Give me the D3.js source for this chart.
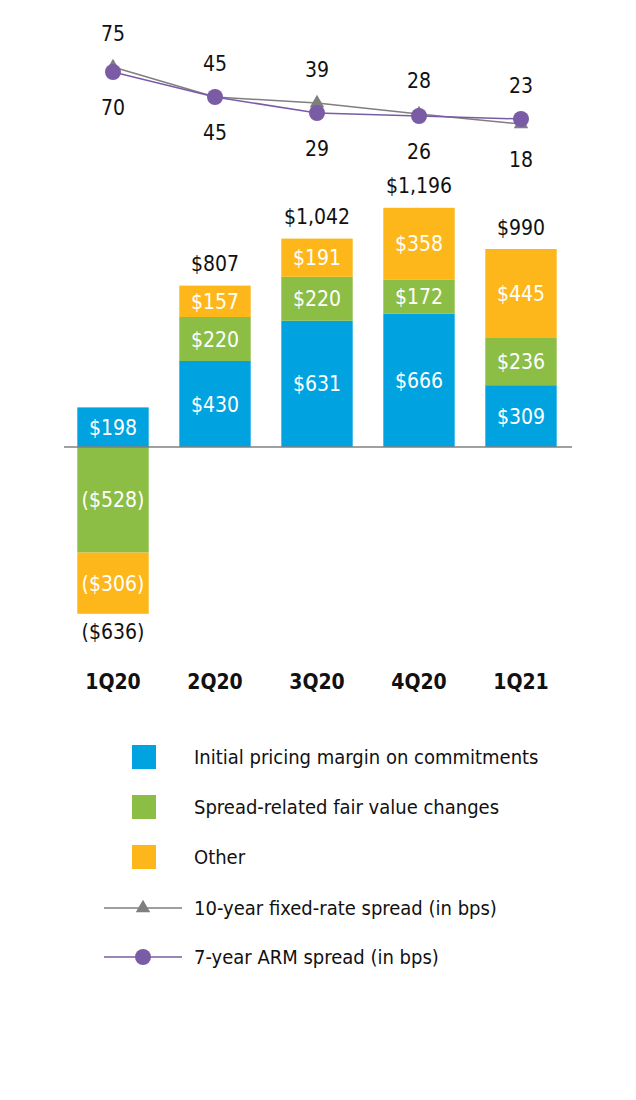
<!DOCTYPE html>
<html>
<head>
<meta charset="utf-8">
<script src="https://cdn.jsdelivr.net/npm/d3@7"></script>
<style>
  body { margin: 0; background: #fff; }
  svg text { font-family: 'DejaVu Sans Condensed', 'DejaVu Sans', sans-serif; font-stretch: condensed; }
</style>
</head>
<body>
<svg id="chart" width="636" height="1100"></svg>
<script>
'use strict';

var quarters = ['1Q20', '2Q20', '3Q20', '4Q20', '1Q21'];
var pricingMargin = [198, 430, 631, 666, 309];
var spreadChanges = [-528, 220, 220, 172, 236];
var other = [-306, 157, 191, 358, 445];
var totals = [-636, 807, 1042, 1196, 990];
var fixedSpread = [75, 45, 39, 28, 18];
var armSpread = [70, 45, 29, 26, 23];

var seriesNames = ['Initial pricing margin on commitments', 'Spread-related fair value changes', 'Other'];
var seriesColors = ['#00A3E0', '#8CBD45', '#FDB71A'];
var fixedName = '10-year fixed-rate spread (in bps)';
var armName = '7-year ARM spread (in bps)';
var grey = '#7F7F7F';
var purple = '#7A5BA5';

var svg = d3.select('#chart');

var x = d3.scaleBand().domain(quarters).range([62, 572]).paddingInner(0.3).paddingOuter(0.15);
var y = d3.scaleLinear().domain([0, 1000]).range([447, 247]);
var yLine = d3.scaleLinear().domain([0, 100]).range([142, 42]);

function money(v) {
  var s = '$' + d3.format(',')(Math.abs(v));
  return v < 0 ? '(' + s + ')' : s;
}

var rows = quarters.map(function(q, i) {
  return { q: q, a: pricingMargin[i], b: spreadChanges[i], c: other[i] };
});
var stack = d3.stack().keys(['a', 'b', 'c']).offset(d3.stackOffsetDiverging);
var layers = stack(rows);

var layer = svg.selectAll('g.layer')
  .data(layers)
  .enter()
  .append('g')
  .attr('class', 'layer')
  .attr('fill', function(d, i) { return seriesColors[i]; });

layer.selectAll('rect')
  .data(function(d) { return d; })
  .enter()
  .append('rect')
  .attr('x', function(d) { return x(d.data.q); })
  .attr('width', x.bandwidth())
  .attr('y', function(d) { return y(Math.max(d[0], d[1])); })
  .attr('height', function(d) { return Math.abs(y(d[0]) - y(d[1])); });

layer.selectAll('text')
  .data(function(d) {
    return d.map(function(p) { return { p: p, v: p.data[d.key] }; });
  })
  .enter()
  .append('text')
  .attr('x', function(d) { return x(d.p.data.q) + x.bandwidth() / 2; })
  .attr('y', function(d) { return (y(d.p[0]) + y(d.p[1])) / 2; })
  .attr('dy', '0.36em')
  .attr('text-anchor', 'middle')
  .attr('fill', 'white')
  .style('font-size', '21px')
  .text(function(d) { return money(d.v); });

// zero line
svg.append('line')
  .attr('x1', 64).attr('x2', 572)
  .attr('y1', y(0)).attr('y2', y(0))
  .attr('stroke', '#808080')
  .attr('stroke-width', 1.5);

// totals
svg.selectAll('text.total')
  .data(totals)
  .enter()
  .append('text')
  .attr('class', 'total')
  .attr('x', function(d, i) { return x(quarters[i]) + x.bandwidth() / 2; })
  .attr('y', function(d, i) {
    var top = pricingMargin[i] + Math.max(0, spreadChanges[i]) + Math.max(0, other[i]);
    var bottom = Math.min(0, spreadChanges[i]) + Math.min(0, other[i]);
    return d < 0 ? y(bottom) + 18 : y(top) - 22;
  })
  .attr('dy', '0.36em')
  .attr('text-anchor', 'middle')
  .attr('fill', '#111')
  .style('font-size', '21px')
  .text(money);

// category labels
svg.selectAll('text.cat')
  .data(quarters)
  .enter()
  .append('text')
  .attr('class', 'cat')
  .attr('x', function(d) { return x(d) + x.bandwidth() / 2; })
  .attr('y', 681)
  .attr('dy', '0.36em')
  .attr('text-anchor', 'middle')
  .attr('fill', '#111')
  .style('font-size', '21px')
  .style('font-weight', 'bold')
  .text(function(d) { return d; });

// spread lines
function cx(i) { return x(quarters[i]) + x.bandwidth() / 2; }
var line = d3.line()
  .x(function(d, i) { return cx(i); })
  .y(function(d) { return yLine(d); });

svg.append('path')
  .datum(fixedSpread)
  .attr('d', line)
  .attr('fill', 'none')
  .attr('stroke', grey)
  .attr('stroke-width', 1.5);

var tri = d3.symbol().type(d3.symbolTriangle).size(90);
svg.selectAll('path.tri')
  .data(fixedSpread)
  .enter()
  .append('path')
  .attr('class', 'tri')
  .attr('d', tri)
  .attr('transform', function(d, i) { return 'translate(' + cx(i) + ',' + yLine(d) + ')'; })
  .attr('fill', grey);

svg.append('path')
  .datum(armSpread)
  .attr('d', line)
  .attr('fill', 'none')
  .attr('stroke', purple)
  .attr('stroke-width', 1.5);

svg.selectAll('circle.arm')
  .data(armSpread)
  .enter()
  .append('circle')
  .attr('class', 'arm')
  .attr('cx', function(d, i) { return cx(i); })
  .attr('cy', function(d) { return yLine(d); })
  .attr('r', 8)
  .attr('fill', purple);

// spread value labels: higher value above, lower below
quarters.forEach(function(q, i) {
  var hi = Math.max(fixedSpread[i], armSpread[i]);
  var lo = Math.min(fixedSpread[i], armSpread[i]);
  svg.append('text')
    .attr('x', cx(i))
    .attr('y', yLine(hi) - 34)
    .attr('dy', '0.36em')
    .attr('text-anchor', 'middle')
    .attr('fill', '#111')
    .style('font-size', '21px')
    .text(hi);
  svg.append('text')
    .attr('x', cx(i))
    .attr('y', yLine(lo) + 35)
    .attr('dy', '0.36em')
    .attr('text-anchor', 'middle')
    .attr('fill', '#111')
    .style('font-size', '21px')
    .text(lo);
});

// legend
var legend = svg.append('g');
seriesNames.forEach(function(name, i) {
  var ly = 757 + i * 50;
  legend.append('rect')
    .attr('x', 132).attr('y', ly - 12)
    .attr('width', 24).attr('height', 24)
    .attr('fill', seriesColors[i]);
  legend.append('text')
    .attr('x', 194).attr('y', ly)
    .attr('dy', '0.36em')
    .attr('fill', '#111')
    .style('font-size', '20px')
    .text(name);
});

function lineKey(ly, color, name, marker) {
  legend.append('line')
    .attr('x1', 104).attr('x2', 182)
    .attr('y1', ly).attr('y2', ly)
    .attr('stroke', color)
    .attr('stroke-width', 1.5);
  if (marker === 'tri') {
    legend.append('path')
      .attr('d', tri)
      .attr('transform', 'translate(143,' + ly + ')')
      .attr('fill', color);
  } else {
    legend.append('circle')
      .attr('cx', 143).attr('cy', ly)
      .attr('r', 8)
      .attr('fill', color);
  }
  legend.append('text')
    .attr('x', 194).attr('y', ly)
    .attr('dy', '0.36em')
    .attr('fill', '#111')
    .style('font-size', '20px')
    .text(name);
}
lineKey(908, grey, fixedName, 'tri');
lineKey(957, purple, armName, 'circle');
</script>
</body>
</html>
